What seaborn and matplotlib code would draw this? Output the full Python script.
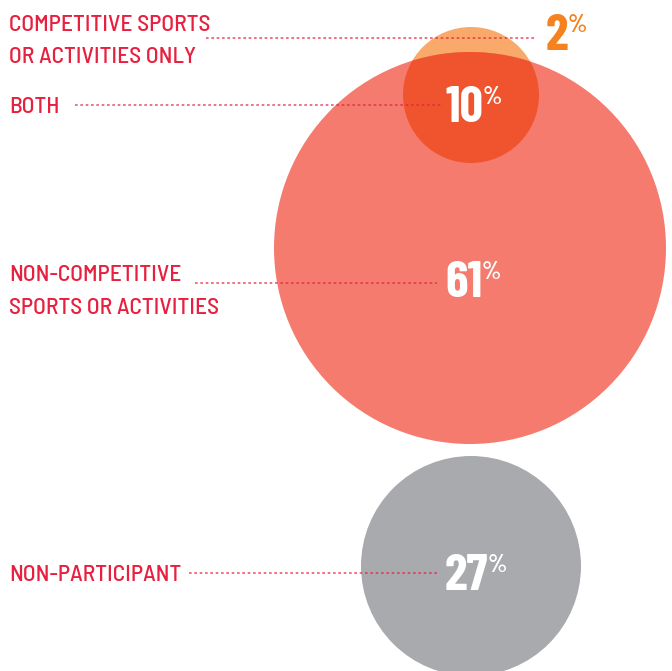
import matplotlib
matplotlib.use("Agg")
import matplotlib.pyplot as plt
from matplotlib.patches import Circle
import seaborn as sns

# ---- data ----
categories = ["COMPETITIVE SPORTS\nOR ACTIVITIES ONLY", "BOTH",
              "NON-COMPETITIVE\nSPORTS OR ACTIVITIES", "NON-PARTICIPANT"]
values = [2, 10, 61, 27]
value_labels = [f"{v}" for v in values]

# ---- layout (pixels, y down) ----
label_y = [[23, 55], [105], [273, 306], [573]]
line_y = [38, 105, 283, 573]
line_x0 = [206, 75, 195, 189]
line_x1 = [536, 443, 437, 437]
num_x = [546, 446, 445, 445]
num_base = [50, 122, 297, 590]
num_colors = ["#F5821F", "white", "white", "white"]

small_c, small_r = (471, 95), 68
big_c, big_r = (470, 248), 196
gray_c, gray_r = (471, 566), 110

sns.set_theme(style="white")
plt.rcParams["font.family"] = ["Barlow Semi Condensed", "DejaVu Sans"]

fig = plt.figure(figsize=(6.72, 6.71), dpi=100)
ax = fig.add_axes([0, 0, 1, 1])
ax.set_xlim(0, 672)
ax.set_ylim(671, 0)
ax.set_aspect("equal")
ax.axis("off")

ax.add_patch(Circle(small_c, small_r, color="#F9AA6A", lw=0, zorder=1))
bigp = Circle(big_c, big_r, color="#F47B6E", lw=0, zorder=2)
ax.add_patch(bigp)
ov = Circle(small_c, small_r, color="#F0542F", lw=0, zorder=3)
ax.add_patch(ov)
ov.set_clip_path(bigp)
ax.add_patch(Circle(gray_c, gray_r, color="#A9AAAD", lw=0, zorder=2))

red = "#E8203F"
for cat, ys in zip(categories, label_y):
    for line, y in zip(cat.split("\n"), ys):
        ax.text(9, y, line, color=red, fontsize=16.9, fontweight=500,
                ha="left", va="center_baseline", zorder=6)

for y, x0, x1 in zip(line_y, line_x0, line_x1):
    ax.plot([x0, x1], [y, y], color=red, alpha=0.75, lw=1.2,
            linestyle=(0, (1.6, 1.6)), zorder=5, solid_capstyle="butt")

fig.canvas.draw()
r = fig.canvas.get_renderer()
numfam = ["Barlow Condensed", "DejaVu Sans"]
for lab, x, yb, c in zip(value_labels, num_x, num_base, num_colors):
    t = ax.text(x, yb, lab, color=c, fontsize=37, fontweight=700,
                family=numfam, ha="left", va="baseline", zorder=7)
    bb = t.get_window_extent(renderer=r)
    xr = ax.transData.inverted().transform((bb.x1, bb.y0))[0]
    ax.text(xr - 1, yb - 18, "%", color=c, fontsize=18, fontweight=600,
            family=numfam, ha="left", va="baseline", zorder=7)

fig.savefig("out.png", dpi=100)
